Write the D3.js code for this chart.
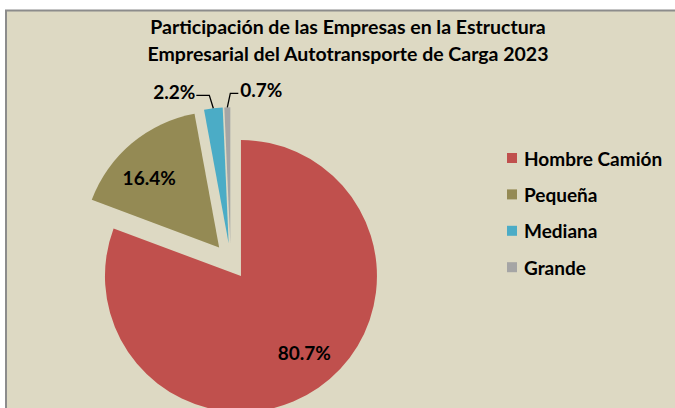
<!DOCTYPE html>
<html>
<head>
<meta charset="utf-8">
<script src="https://cdn.jsdelivr.net/npm/d3@7"></script>
<style>
  body { margin: 0; background: #ffffff; }
  text { font-family: Lato, "Open Sans", sans-serif; font-weight: bold; fill: #000; }
</style>
</head>
<body>
<div id="chart"></div>
<script>
// chart data
let categories = ["Hombre Camión", "Pequeña", "Mediana", "Grande"];
let shares = [80.7, 16.4, 2.2, 0.7];
let colors = ["#C0504D", "#948A54", "#4BACC6", "#A5A5A5"];
let titleLines = ["Participación de las Empresas en la Estructura",
                  "Empresarial del Autotransporte de Carga 2023"];

let svgWidth = 675;
let svgHeight = 408;

var svg = d3.select("#chart")
    .append("svg")
    .attr("width", svgWidth)
    .attr("height", svgHeight);

// chart area background with its border
svg.append("rect")
    .attr("x", 6)
    .attr("y", 10.5)
    .attr("width", 720)
    .attr("height", 430)
    .attr("fill", "#DDD9C3")
    .attr("stroke", "#8C8C8C")
    .attr("stroke-width", 2);

// title
svg.append("text")
    .attr("text-anchor", "middle")
    .attr("font-size", "19.5px")
    .selectAll("tspan")
    .data(titleLines)
    .enter()
    .append("tspan")
    .attr("x", 348)
    .attr("y", (d, i) => 34 + i * 27)
    .text(d => d);

// pie
let radius = 136;
let explode = 18;
let cx = 230.7, cy = 261.3;

var pie = d3.pie().sort(null).value(d => d);
var arc = d3.arc().innerRadius(0).outerRadius(radius);
var arcs = pie(shares);

var pieGroup = svg.append("g")
    .attr("transform", `translate(${cx}, ${cy})`);

function offset(d, dist, turn) {
    let mid = (d.startAngle + d.endAngle) / 2 + (turn || 0);
    return [Math.sin(mid) * dist, -Math.cos(mid) * dist];
}

var slices = pieGroup.selectAll("g.slice")
    .data(arcs)
    .enter()
    .append("g")
    .attr("class", "slice")
    .attr("transform", d => `translate(${offset(d, explode)})`);

slices.append("path")
    .attr("d", arc)
    .attr("fill", (d, i) => colors[i]);

// labels inside the big slices (a little before the bisector, like excel's best fit)
let labelTurn = -5 * Math.PI / 180;
slices.filter(d => d.data > 10)
    .append("text")
    .attr("text-anchor", "middle")
    .attr("dominant-baseline", "central")
    .attr("font-size", "19px")
    .attr("x", d => offset(d, 99, labelTurn)[0])
    .attr("y", d => offset(d, 99, labelTurn)[1])
    .text(d => d3.format(".1f")(d.data) + "%");

// labels with leader lines for the small slices
let leaderShift = { 2: [-4, -13, -13], 3: [3, -14, 8] };
slices.filter(d => d.data <= 10).each(function(d) {
    let g = d3.select(this);
    let s = leaderShift[d.index];
    let p0 = offset(d, radius);
    let p1 = [p0[0] + s[0], p0[1] + s[1]];
    let p2 = [p1[0] + s[2], p1[1]];
    g.append("polyline")
        .attr("points", [p0, p1, p2].map(p => p.join(",")).join(" "))
        .attr("fill", "none")
        .attr("stroke", "#000")
        .attr("stroke-width", 1.3);
    g.append("text")
        .attr("font-size", "19px")
        .attr("dominant-baseline", "central")
        .attr("text-anchor", s[2] < 0 ? "end" : "start")
        .attr("x", p2[0] + (s[2] < 0 ? -1 : 2))
        .attr("y", p2[1] - 4)
        .text(d3.format(".1f")(d.data) + "%");
});

// legend
var legend = svg.append("g")
    .attr("transform", "translate(507, 158)");

var items = legend.selectAll("g")
    .data(categories)
    .enter()
    .append("g")
    .attr("transform", (d, i) => `translate(0, ${i * 36.4})`);

items.append("rect")
    .attr("x", 0)
    .attr("y", -5)
    .attr("width", 10)
    .attr("height", 10)
    .attr("fill", (d, i) => colors[i]);

items.append("text")
    .attr("x", 17)
    .attr("dominant-baseline", "central")
    .attr("font-size", "19px")
    .text(d => d);
</script>
</body>
</html>
